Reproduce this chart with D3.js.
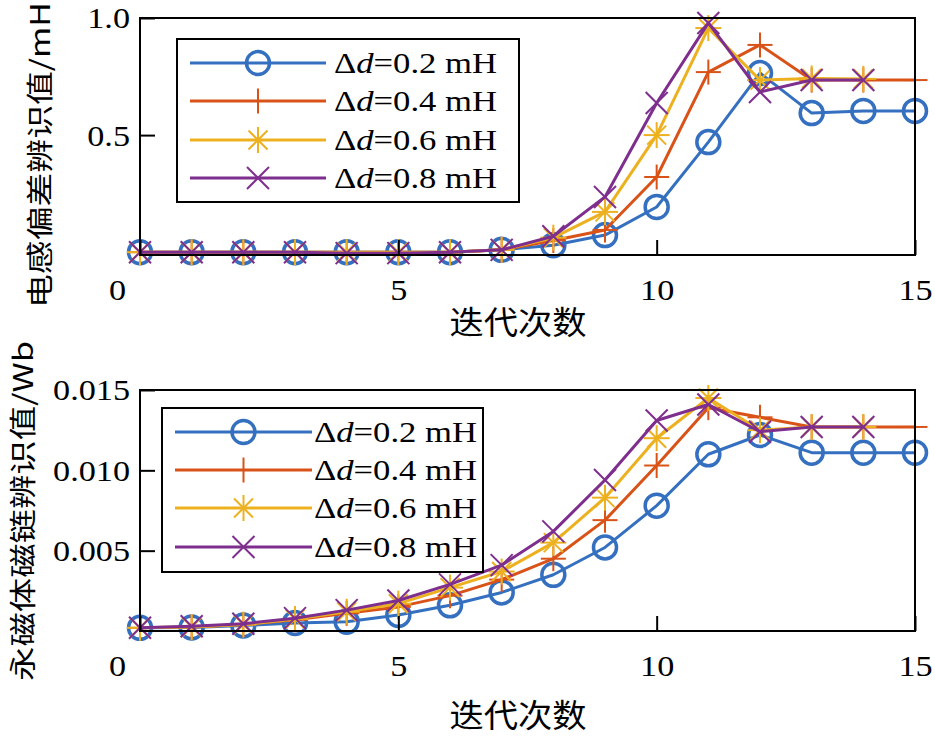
<!DOCTYPE html>
<html><head><meta charset="utf-8">
<script src="https://cdn.jsdelivr.net/npm/d3@7"></script>
<style>body{margin:0;background:#fff}</style>
</head><body><svg id="c" width="935" height="737"></svg>
<script>
// ---- data ----
const iterations = d3.range(0, 16);
const seriesLabels = ["0.2", "0.4", "0.6", "0.8"];
const seriesColors = ["#3470BF", "#D95319", "#EDB120", "#7E2F8E"];
const seriesMarkers = ["circle", "plus", "star", "cross"];

// Top: inductance deviation identification (mH)
const topD02 = [0,0,0,0,0,0,0,0.01,0.03,0.073,0.193,0.47,0.765,0.594,0.603,0.603];
const topD04 = [0,0,0,0,0,0,0,0.01,0.05,0.095,0.321,0.769,0.885,0.735,0.735,0.735];
const topD06 = [0,0,0,0,0,0,0,0.01,0.062,0.172,0.5,0.957,0.735,0.742,0.74];
const topD08 = [0,0,0,0,-0.004,-0.004,0,0.01,0.068,0.236,0.637,0.979,0.684,0.735,0.735];

// Bottom: PM flux linkage identification (Wb)
const botD02 = [0.0002,0.00022,0.00035,0.0005,0.00058,0.001,0.0016,0.0024,0.0035,0.0052,0.0078,0.011,0.0122,0.0111,0.0111,0.0111];
const botD04 = [0.0002,0.00025,0.0004,0.0007,0.0011,0.0015,0.0022,0.0032,0.0045,0.0069,0.0103,0.0139,0.0133,0.0127,0.0127,0.0127];
const botD06 = [0.0002,0.00025,0.0004,0.00075,0.0012,0.0017,0.0027,0.0037,0.0055,0.0083,0.012,0.0145,0.0125,0.0127,0.0127];
const botD08 = [0.0002,0.0003,0.00045,0.0008,0.0013,0.0019,0.0029,0.0041,0.0062,0.0094,0.0131,0.0141,0.0124,0.0127,0.0127];

const xTicks = [0, 5, 10, 15];
const topYTicks = [0.5, 1.0];
const botYTicks = [0.005, 0.010, 0.015];
const topYLabel = "电感偏差辨识值/mH";
const botYLabel = "永磁体磁链辨识值/Wb";
const xLabel = "迭代次数";

// ---- drawing ----
const svg = d3.select("#c");
const SERIF = "Liberation Serif, Times New Roman, serif";
const CJK = "Noto Sans CJK SC, Noto Sans CJK JP, sans-serif";

function stretch(sel, f) {
  sel.each(function () {
    const L = this.getComputedTextLength();
    this.setAttribute("textLength", L * f);
    this.setAttribute("lengthAdjust", "spacingAndGlyphs");
  });
}

function marker(g, type, color, cx, cy) {
  if (type === "circle") {
    g.append("circle").attr("cx", cx).attr("cy", cy).attr("r", 11.5)
      .attr("fill", "none").attr("stroke", color).attr("stroke-width", 3.5);
  } else {
    const segs = [];
    if (type === "plus" || type === "star") {
      const h = type === "plus" ? 12.5 : 13;
      segs.push([-h, 0, h, 0], [0, -h, 0, h]);
    }
    if (type === "cross" || type === "star") {
      const h = type === "cross" ? 11 : 9.5;
      segs.push([-h, -h, h, h], [-h, h, h, -h]);
    }
    segs.forEach(s => g.append("line")
      .attr("x1", cx + s[0]).attr("y1", cy + s[1]).attr("x2", cx + s[2]).attr("y2", cy + s[3])
      .attr("stroke", color).attr("stroke-width", 2));
  }
}

function panel(cfg) {
  const x = d3.scaleLinear().domain([0, 15]).range([140, 915]);
  const y = d3.scaleLinear().domain(cfg.yDomain).range([cfg.bottom, cfg.top]);
  const g = svg.append("g");

  // series
  cfg.series.forEach((vals, i) => {
    const pts = vals.map((v, k) => [iterations[k], v]);
    g.append("path").datum(pts)
      .attr("fill", "none").attr("stroke", seriesColors[i]).attr("stroke-width", 3)
      .attr("stroke-linejoin", "round")
      .attr("d", d3.line().x(d => x(d[0])).y(d => y(d[1])));
    const mg = g.append("g");
    pts.forEach(d => marker(mg, seriesMarkers[i], seriesColors[i], x(d[0]), y(d[1])));
  });

  // frame
  g.append("rect").attr("x", 140).attr("y", cfg.top).attr("width", 775).attr("height", cfg.bottom - cfg.top)
    .attr("fill", "none").attr("stroke", "#000").attr("stroke-width", 2);

  // axes
  const ya = g.append("g").attr("transform", "translate(140,0)")
    .call(d3.axisLeft(y).tickValues(cfg.yTicks).tickSize(-15).tickPadding(10).tickFormat(cfg.yFmt));
  const xa = g.append("g").attr("transform", `translate(0,${cfg.bottom})`)
    .call(d3.axisBottom(x).tickValues(xTicks).tickSize(-15).tickPadding(24).tickFormat(d3.format("d")));
  [ya, xa].forEach(a => {
    a.select(".domain").remove();
    a.selectAll("line").attr("stroke", "#000").attr("stroke-width", 2);
    a.selectAll("text").attr("font-family", SERIF).attr("font-size", 30).attr("fill", "#000");
  });
  ya.selectAll("text").attr("dy", "0.33em");
  xa.selectAll(".tick").filter(d => d === 0).select("text").attr("dx", -23);
  stretch(ya.selectAll("text"), 1.14);
  stretch(xa.selectAll("text"), 1.14);

  // y label
  svg.append("text").attr("transform", `translate(${cfg.ylx},${cfg.yly}) rotate(-90)`)
    .attr("text-anchor", "middle").attr("dy", "0.36em")
    .attr("font-family", CJK).attr("font-size", 27).attr("fill", "#000")
    .text(cfg.yLabel)
    .attr("textLength", cfg.ylLen).attr("lengthAdjust", "spacingAndGlyphs");

  // x label
  const xl = svg.append("text").attr("x", 518).attr("y", cfg.xlY)
    .attr("text-anchor", "middle").attr("font-family", CJK).attr("font-size", 32).attr("fill", "#000")
    .text(xLabel);
  xl.attr("textLength", 137).attr("lengthAdjust", "spacingAndGlyphs");

  // legend
  const L = cfg.legend;
  const lg = svg.append("g");
  lg.append("rect").attr("x", L.x0).attr("y", L.y0).attr("width", L.x1 - L.x0).attr("height", L.y1 - L.y0)
    .attr("fill", "#fff").attr("stroke", "#000").attr("stroke-width", 2);
  seriesLabels.forEach((lab, i) => {
    const yy = L.rows[i];
    lg.append("line").attr("x1", L.lx0).attr("x2", L.lx1).attr("y1", yy).attr("y2", yy)
      .attr("stroke", seriesColors[i]).attr("stroke-width", 3);
    marker(lg, seriesMarkers[i], seriesColors[i], (L.lx0 + L.lx1) / 2, yy);
    const t = lg.append("text").attr("x", L.tx).attr("y", yy + 10)
      .attr("font-family", SERIF).attr("font-size", 29).attr("fill", "#000");
    t.append("tspan").text("Δ");
    t.append("tspan").attr("font-style", "italic").text("d");
    t.append("tspan").text("=" + lab + " mH");
    t.attr("textLength", 163).attr("lengthAdjust", "spacingAndGlyphs");
  });
}

panel({
  top: 18, bottom: 255, yDomain: [-0.012, 1.0], yTicks: topYTicks, yFmt: d3.format(".1f"),
  series: [topD02, topD04, topD06, topD08],
  yLabel: topYLabel, ylx: 40, yly: 155, ylLen: 306, xlY: 334,
  legend: { x0: 177, y0: 39, x1: 519, y1: 202, rows: [63, 101, 140, 178], lx0: 190, lx1: 326, tx: 334 }
});

panel({
  top: 390, bottom: 631, yDomain: [0, 0.015], yTicks: botYTicks, yFmt: d3.format(".3f"),
  series: [botD02, botD04, botD06, botD08],
  yLabel: botYLabel, ylx: 23, yly: 511, ylLen: 340, xlY: 727,
  legend: { x0: 162, y0: 408, x1: 483, y1: 572, rows: [432, 470, 508, 547], lx0: 175, lx1: 312, tx: 314 }
});
</script></body></html>
